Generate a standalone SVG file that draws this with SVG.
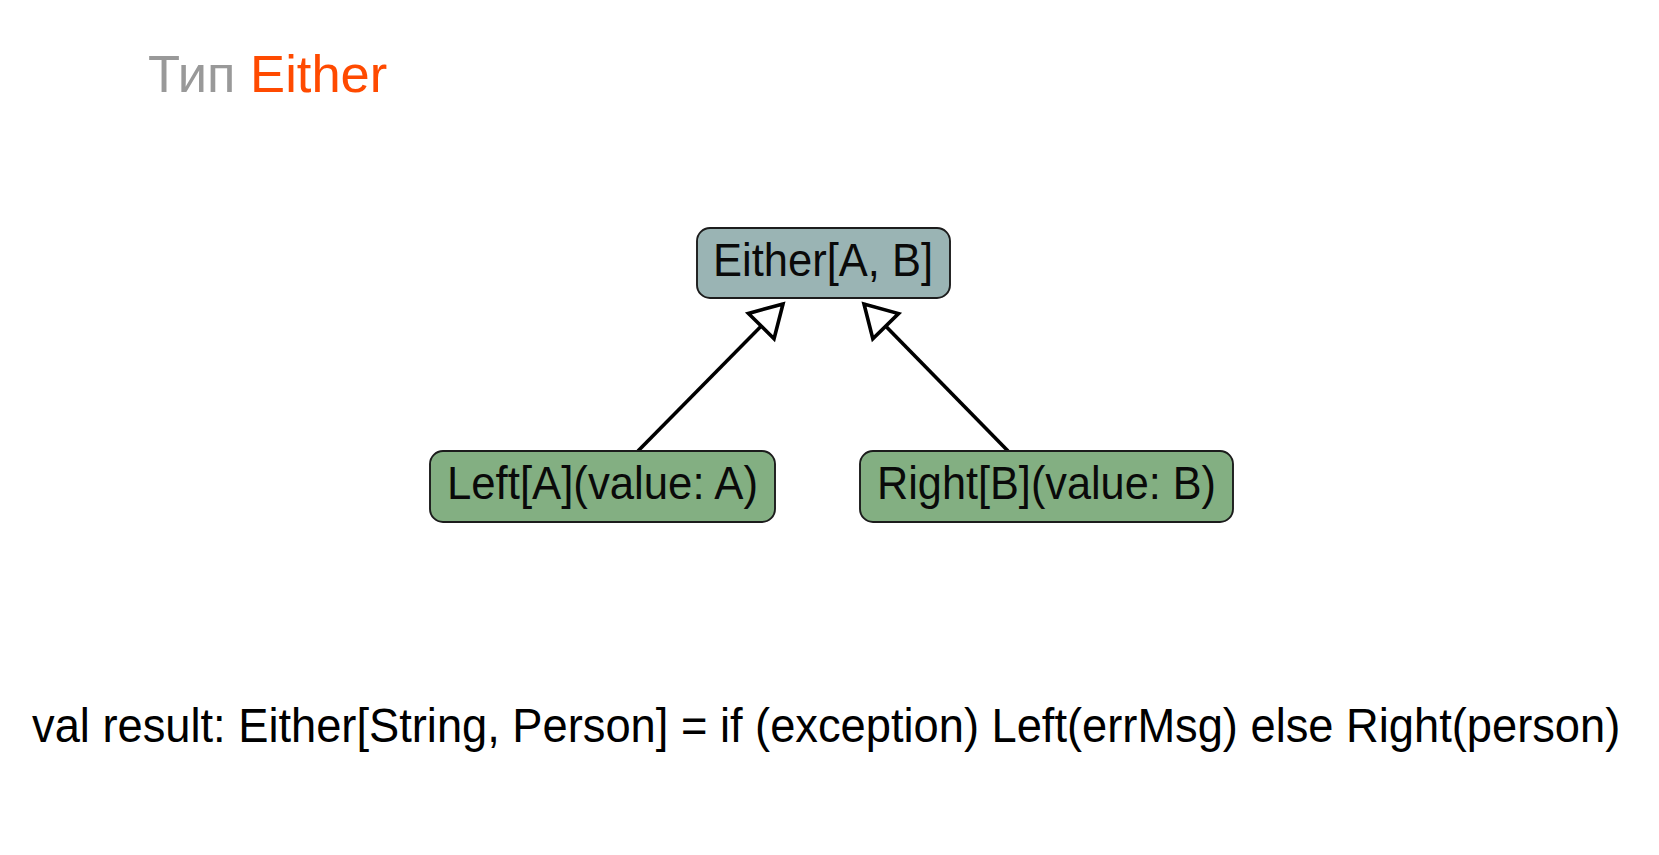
<svg xmlns="http://www.w3.org/2000/svg" width="1659" height="855" viewBox="0 0 1659 855">
<style>
.bg{fill:#ffffff}
.node{stroke:#1c1c1c;stroke-width:1.9}
.top{fill:#9ab4b4}
.leaf{fill:#83af82}
.lbl{font-family:"Liberation Sans","DejaVu Sans",sans-serif;font-size:46px;fill:#0a0a0a}
.edge{stroke:#000;stroke-width:3.6;fill:none}
.title{font-family:"Liberation Sans",Arial,sans-serif;font-size:52.5px}
.code{font-family:"Liberation Sans",Arial,sans-serif;font-size:48px;fill:#000}
</style>
<defs>
<marker id="tri" markerUnits="userSpaceOnUse" viewBox="-36 -22 40 44" refX="0" refY="0" markerWidth="40" markerHeight="44" orient="auto">
<path d="M0,0 L-31,-18 L-31,18 Z" fill="#fff" stroke="#000" stroke-width="3.6" stroke-linejoin="miter"/>
</marker>
</defs>
<rect class="bg" x="0" y="0" width="1659" height="855"/>
<text class="title" x="148" y="92"><tspan fill="#999999">Тип </tspan><tspan fill="#ff4a00">Either</tspan></text>
<g id="connectors">
<line class="edge" x1="638" y1="451" x2="783" y2="304" marker-end="url(#tri)"/>
<line class="edge" x1="1008" y1="451" x2="864" y2="304" marker-end="url(#tri)"/>
</g>
<g id="either">
<rect class="node top" x="697" y="228" width="253" height="70" rx="13" ry="13"/>
<text class="lbl" x="713" y="276" textLength="220" lengthAdjust="spacingAndGlyphs">Either[A, B]</text>
</g>
<g id="left">
<rect class="node leaf" x="430" y="451" width="345" height="71" rx="13" ry="13"/>
<text class="lbl" x="447" y="499" textLength="311" lengthAdjust="spacingAndGlyphs">Left[A](value: A)</text>
</g>
<g id="right">
<rect class="node leaf" x="860" y="451" width="373" height="71" rx="13" ry="13"/>
<text class="lbl" x="877" y="499" textLength="339" lengthAdjust="spacingAndGlyphs">Right[B](value: B)</text>
</g>
<text class="code" transform="translate(32,742) scale(0.943,1)" x="0" y="0">val result: Either[String, Person] = if (exception) Left(errMsg) else Right(person)</text>
</svg>
